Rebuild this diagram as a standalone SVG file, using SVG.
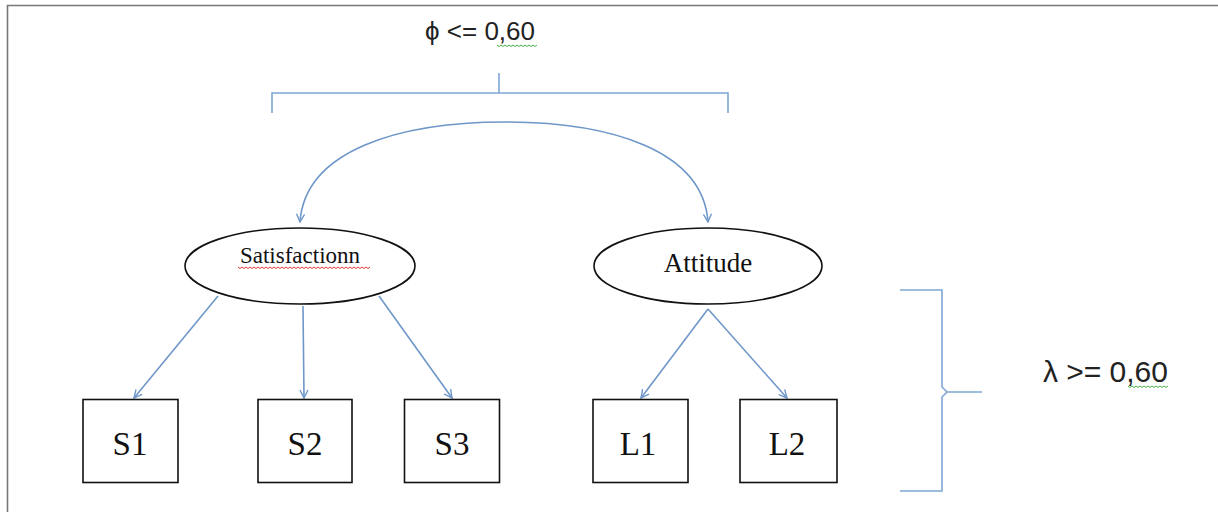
<svg xmlns="http://www.w3.org/2000/svg" width="1218" height="512" viewBox="0 0 1218 512">
<defs>
<style>
.frame{fill:none;stroke:#777;stroke-width:1.6}
.conn{fill:none;stroke:#6f97c9;stroke-width:1.6}
.brk{fill:none;stroke:#7ea6d4;stroke-width:1.6}
.node{fill:#fff;stroke:#111;stroke-width:1.6}
.serif{font-family:"Liberation Serif","Times New Roman",serif;fill:#111}
.sans{font-family:"Liberation Sans",Arial,sans-serif;fill:#222}
.wavyR{fill:none;stroke:#d22;stroke-width:0.9}
.wavyG{fill:none;stroke:#3a3;stroke-width:0.9}
</style>
<marker id="arr" markerWidth="10" markerHeight="10" viewBox="0 0 10 10" refX="9" refY="5" orient="auto" markerUnits="userSpaceOnUse">
<path d="M1,1 L9,5 L1,9" fill="none" stroke="#6f97c9" stroke-width="1.4"/>
</marker>
</defs>
<rect width="1218" height="512" fill="#fff"/>
<path class="frame" d="M7.5,512 L7.5,5.5 L1218,5.5"/>

<g id="phi-label">
<text class="sans" x="535" y="40" font-size="26" text-anchor="end">ϕ &lt;= 0,60</text>
<path class="wavyG" d="M497,45 l2,1.5 l2,-1.5 l2,1.5 l2,-1.5 l2,1.5 l2,-1.5 l2,1.5 l2,-1.5 l2,1.5 l2,-1.5 l2,1.5 l2,-1.5 l2,1.5 l2,-1.5 l2,1.5 l2,-1.5 l2,1.5 l2,-1.5 l2,1.5 l2,-1.5"/>
</g>
<g id="top-bracket">
<path class="brk" d="M272,113 L272,93 L728,93 L728,113 M499,73 L499,93"/>
</g>
<g id="right-brace">
<path class="brk" d="M900,290 L942,290 L942,387 L947,392 L942,397 L942,491 L900,491 M947,392 L982,392"/>
</g>
<g id="lambda-label">
<text class="sans" x="1168" y="382" font-size="30" text-anchor="end">λ &gt;= 0,60</text>
<path class="wavyG" d="M1128,386 l2,1.5 l2,-1.5 l2,1.5 l2,-1.5 l2,1.5 l2,-1.5 l2,1.5 l2,-1.5 l2,1.5 l2,-1.5 l2,1.5 l2,-1.5 l2,1.5 l2,-1.5 l2,1.5 l2,-1.5 l2,1.5 l2,-1.5 l2,1.5 l2,-1.5"/>
</g>

<g id="connectors">
<path class="conn" d="M505,122 C400,122 305,150 300,222" marker-end="url(#arr)"/>
<path class="conn" d="M505,122 C610,122 703,150 708,222" marker-end="url(#arr)"/>
<path class="conn" d="M218,296 L134,398" marker-end="url(#arr)"/>
<path class="conn" d="M303,306 L304,398" marker-end="url(#arr)"/>
<path class="conn" d="M379,296 L452,398" marker-end="url(#arr)"/>
<path class="conn" d="M708,309 L641,398" marker-end="url(#arr)"/>
<path class="conn" d="M708,309 L787,398" marker-end="url(#arr)"/>
</g>

<g id="satisfaction">
<ellipse class="node" cx="300" cy="266" rx="115" ry="38"/>
<text class="serif" x="300" y="263" font-size="23" text-anchor="middle">Satisfactionn</text>
<path class="wavyR" d="M238,267 l2,1.5 l2,-1.5 l2,1.5 l2,-1.5 l2,1.5 l2,-1.5 l2,1.5 l2,-1.5 l2,1.5 l2,-1.5 l2,1.5 l2,-1.5 l2,1.5 l2,-1.5 l2,1.5 l2,-1.5 l2,1.5 l2,-1.5 l2,1.5 l2,-1.5 l2,1.5 l2,-1.5 l2,1.5 l2,-1.5 l2,1.5 l2,-1.5 l2,1.5 l2,-1.5 l2,1.5 l2,-1.5 l2,1.5 l2,-1.5 l2,1.5 l2,-1.5 l2,1.5 l2,-1.5 l2,1.5 l2,-1.5 l2,1.5 l2,-1.5 l2,1.5 l2,-1.5 l2,1.5 l2,-1.5 l2,1.5 l2,-1.5 l2,1.5 l2,-1.5 l2,1.5 l2,-1.5 l2,1.5 l2,-1.5 l2,1.5 l2,-1.5 l2,1.5 l2,-1.5 l2,1.5 l2,-1.5 l2,1.5 l2,-1.5 l2,1.5 l2,-1.5 l2,1.5 l2,-1.5 l2,1.5 l2,-1.5"/>
</g>
<g id="attitude">
<ellipse class="node" cx="708" cy="266" rx="114" ry="38"/>
<text class="serif" x="708" y="272" font-size="27" text-anchor="middle">Attitude</text>
</g>

<g id="S1"><rect class="node" x="83" y="399.5" width="95" height="83"/><text class="serif" x="130" y="455" font-size="33" text-anchor="middle">S1</text></g>
<g id="S2"><rect class="node" x="258" y="399.5" width="94" height="83"/><text class="serif" x="305" y="455" font-size="33" text-anchor="middle">S2</text></g>
<g id="S3"><rect class="node" x="404.5" y="399.5" width="95" height="83"/><text class="serif" x="452" y="455" font-size="33" text-anchor="middle">S3</text></g>
<g id="L1"><rect class="node" x="593" y="399.5" width="95" height="83"/><text class="serif" x="638" y="455" font-size="33" text-anchor="middle">L1</text></g>
<g id="L2"><rect class="node" x="740" y="399.5" width="97" height="83"/><text class="serif" x="787" y="455" font-size="33" text-anchor="middle">L2</text></g>
</svg>
